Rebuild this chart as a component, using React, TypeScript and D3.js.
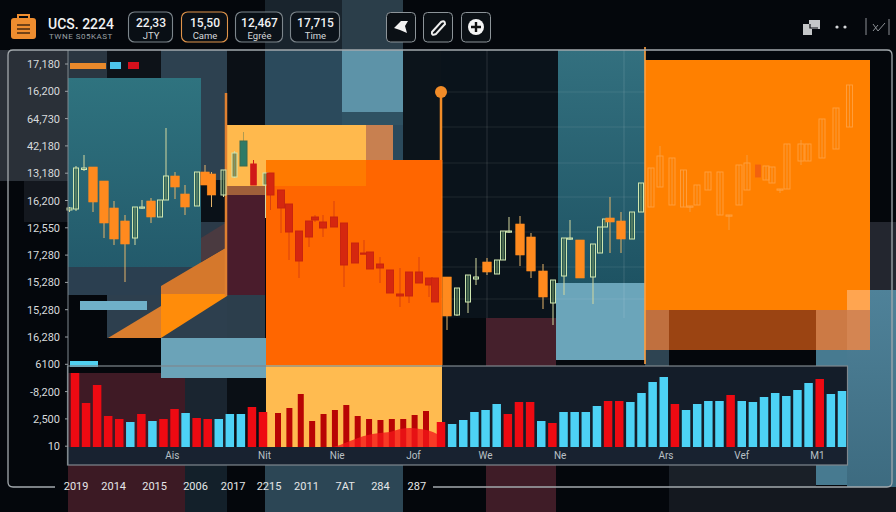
import React from "react";
import * as d3 from "d3";

const candleSession = [0.15,0.8,1.6,2.5,3.6,4.6,5.7,6.7,7.4,8.3,9.2,9.8,10.7,11.7,12.9,13.7,14.35,15.55,16.65,17.55,18.55,19.75,20.25,21.3,22.1,23.1,24.1,24.7,25.5,26.6,27.6,28.7,29.6,30.2,31.2,32.2,33.2,34.1,35.1,36.1,36.7,37.9,38.9,40,40.8,41.9,42.9,43.5,44.1,45.2,46.3,47.5,48.5,49.6,50.2,51.2,52.5,53.2,53.7,54.2,55.3,56.4,57.3,58.3,59.2,60.4,61.55,62.2,62.9,64,65.2,66.1,67.1,67.9,69,69.8,70.4,71.2,71.9,73.3,74,75.4,76.8,78.15];
const candleOpen = [255,256,295.5,298,284,257,244,227,257,264,248,265,289,271,259,293,291,270,288,299,301,280,292,275,261,234,244,248,243,248,242,222,212,213,201,195,171,193,193,187,187,188,150,163,186,203,191,205,233,241,228,194,162,189,226,225,188,212,238,247,244,226,253,258,278,260,258,258,260,275,250,249,260,275,300,285,282,275,276,304,304,307,316,338];
const candleClose = [257,297,297,263,242,226,221,258,258,248,265,289,278,258,293,280,270,295,312,324,280,292,270,257,233,204,228,245,237,238,200,202,211,196,197,172,169,169,182,180,163,149,177,190,188,193,205,234,234,210,194,168,185,227,227,187,221,238,246,243,226,253,282,297,309,307,295,259,280,293,293,250,300,302,288,299,298,276,321,321,321,346,357,380];
const candleHigh = [258,299,310,298,284,264,250,258,265,267,265,337,293,280,293,300,293,295,314,333,305,292,292,275,261,234,244,250,250,264,242,222,225,213,208,195,197,193,208,187,187,188,177,190,207,207,205,234,248,249,232,201,185,227,245,225,221,238,246,268,253,253,282,297,319,307,295,259,280,293,293,250,300,310,300,299,298,276,321,325,321,346,357,380];
const candleLow = [253,254,294,253,227,220,183,220,256,242,248,265,266,250,259,280,258,268,287,299,280,247,255,232,205,187,218,243,228,238,178,202,211,196,182,172,158,162,182,168,163,135,149,152,180,190,191,205,232,199,187,156,140,170,225,187,161,212,238,212,212,226,253,258,278,260,258,253,260,275,250,235,260,275,288,285,282,272,276,300,304,307,316,338];

const volumeValue = [74,44,62,31,28,25,33,26,28,38,34,29,28,28,33,33,40,35,34,39,53,26,33,37,42,31,28,27,28,28,32,36,25,23,27,35,37,43,33,45,45,26,24,35,35,35,41,46,46,45,54,65,70,43,37,43,46,46,52,46,45,50,54,51,57,64,68,53,56];
const volumeUp = [0,0,0,0,0,1,0,1,0,0,1,0,0,1,1,1,0,0,0,0,0,0,0,0,0,0,0,0,0,0,0,0,0,1,1,1,1,1,0,0,0,1,0,1,1,1,1,0,0,1,1,1,1,0,1,1,1,1,0,1,1,1,1,1,1,1,0,1,1];
const depthSession = [26.5,27.2,28.2,29,30,31.2,32.2,33.2,34.2,35.2,36.2,36.9];
const depthValue = [0,2,6,9,12,14,15,18,19,18,16,13];

const yTickLabels = ["17,180","16,200","64,730","42,180","13,180","16,200","12,550","17,280","15,280","15,280","16,280","6100","-8,200","2,500","10"];
const monthLabels = ["Ais","Nit","Nie","Jof","We","Ne","Ars","Vef","M1"];
const monthSlots = [8.8,17.1,23.2,29.9,36,42.7,52.2,59,65.8];
const yearLabels = ["2019","2014","2015","2006","2017","2215","2011","7AT","284","287"];
const yearSlots = [0.1,3.5,7.2,10.9,14.3,17.4,20.5,23.9,27,30.2];
const statValues = ["22,33","15,50","12,467","17,715"];
const statNames = ["JTY","Came","Egrée","Time"];

const W = 896, H = 512;
const xSession = d3.scaleLinear().domain([0, 78]).range([68, 848]);
const yPrice = d3.scaleLinear().domain([0, 400]).range([465, 65]);
const xVolume = d3.scaleLinear().domain([0, 17, 18, 31, 32, 68]).range([75, 263, 278, 426, 441, 842]);
const yVolume = d3.scaleLinear().domain([0, 80]).range([447, 367]);
const depthArea = d3.area<number>()
  .x((_, i) => xSession(depthSession[i]))
  .y0(yVolume(0))
  .y1((d) => yVolume(d))
  .curve(d3.curveMonotoneX);

type P = [number, number, number, number, string];
const panels: P[] = [
  [0, 0, 896, 512, "#04070c"],
  [0, 50, 68, 131, "#2a3038"],
  [24, 181, 44, 41, "#14181f"],
  [265, 0, 77, 50, "#19242d"],
  [342, 0, 61, 50, "#2b3e4a"],
  [68, 50, 39, 28, "#2a3641"],
  [107, 50, 54, 28, "#0d1218"],
  [161, 50, 66, 217, "#2d4150"],
  [227, 50, 38, 75, "#0b1016"],
  [265, 50, 138, 75, "#2b4a5c"],
  [342, 50, 61, 62, "#5d93a8"],
  [342, 112, 61, 13, "#2f5263"],
  [393, 125, 10, 35, "#2b4a5c"],
  [403, 50, 38, 110, "#0c141b"],
  [441, 50, 117, 268, "#0a131b"],
  [558, 50, 87, 233, "url(#teal2)"],
  [441, 318, 45, 48, "#05090e"],
  [486, 318, 70, 48, "#45202c"],
  [556, 283, 89, 77, "#6ba5ba"],
  [556, 360, 90, 6, "#05090e"],
  [68, 267, 133, 28, "#2b3f50"],
  [201, 222, 26, 73, "#2b3a48"],
  [201, 180, 26, 42, "#0a1118"],
  [107, 295, 120, 43, "#2d3f4e"],
  [227, 295, 38, 43, "#2c3e4c"],
  [227, 195, 38, 100, "#4a1c2c"],
  [227, 186, 38, 9, "#9f5f3a"],
  [68, 78, 133, 189, "url(#teal1)"],
  [366, 125, 27, 35, "#c88050"],
  [227, 125, 139, 61, "#ffb94d"],
  [266, 160, 176, 205, "#ff6600"],
  [266, 160, 100, 26, "#ff7a00"],
  [266, 365, 176, 82, "#ffbb50"],
  [870, 222, 26, 68, "#23262f"],
  [816, 350, 31, 135, "#477a90"],
  [847, 290, 49, 197, "url(#steel)"],
  [645, 60, 225, 250, "#ff8000"],
  [645, 310, 225, 40, "#9b4412"],
  [645, 310, 24, 40, "#c0703f"],
  [816, 310, 54, 40, "#cc7a45"],
  [847, 290, 23, 20, "#ffa550"],
  [847, 310, 23, 40, "#d48552"],
  [645, 350, 24, 16, "#2e4452"],
  [68, 373, 117, 74, "#3f1a25"],
  [185, 366, 42, 81, "#1a2530"],
  [227, 366, 39, 81, "#0a0f15"],
  [161, 338, 105, 40, "#6ba3b8"],
  [442, 366, 406, 81, "#141d29"],
  [68, 447, 780, 18, "#182230"],
  [68, 465, 117, 47, "#3c1a24"],
  [185, 465, 42, 47, "#13202a"],
  [265, 465, 138, 47, "#2c4655"],
  [486, 465, 70, 47, "#3f1c27"],
  [669, 465, 147, 22, "#1a2028"],
  [669, 487, 227, 25, "#14181f"],
  [816, 465, 31, 20, "#477a90"],
];

const polys: [string, string][] = [
  ["161,286 227,247 227,294 161,294", "#d5782c"],
  ["161,294 227,294 227,296 161,338", "#ff8c0a"],
  ["108,338 161,338 161,306", "#d97d2e"],
  ["201,262 227,247 227,222 201,238", "#4a3a40"],
];

const gridY = [92, 127, 163, 197, 232, 267, 299];
const gridX = [487, 624];

function candleStyle(s: number, up: boolean) {
  const x = xSession(s);
  if (x > 645) return up
    ? { fill: "none", stroke: "#ffa040", wick: "#f59a3c", w: 6, sw: 0.9 }
    : { fill: "#f2620f", stroke: "#f2620f", wick: "#f59a3c", w: 5, sw: 0.9 };
  if (x > 268 && x < 441) return { fill: "#d5270f", stroke: "#c9240f", wick: "#d9400e", w: 7, sw: 1 };
  if (x > 238 && x < 250) return { fill: "#2f7a66", stroke: "#3a6b50", wick: "#b09a50", w: 7, sw: 1 };
  if (x > 248 && x < 260) return { fill: "#d01818", stroke: "#d01818", wick: "#d01818", w: 5.5, sw: 1 };
  if (up) return { fill: "rgba(48,95,70,0.55)", stroke: "#cfe6b0", wick: "#d2d8a0", w: 5, sw: 1 };
  return { fill: "#ff8a1e", stroke: "#ff8a1e", wick: "#e4b46a", w: 8.5, sw: 0.6 };
}

function Icon({ x, kind }: { x: number; kind: number }) {
  return (
    <g transform={`translate(${x},12)`}>
      <rect x={0.5} y={0.5} width={29} height={29.5} rx={4} fill="#0b1015" stroke="#8d9499" />
      {kind === 0 && <path d="M8 16 L15 9 L22 9 L19 14 L21 21 L14 18 Z" fill="#f2f2f2" />}
      {kind === 1 && <path d="M9 20 L18 10 Q22 8 22 12 L13 22 Q8 24 9 20 Z" fill="none" stroke="#eee" strokeWidth={2} />}
      {kind === 2 && (
        <g>
          <circle cx={15} cy={15} r={8} fill="#f5f5f5" />
          <path d="M15 10 V20 M10 15 H20" stroke="#111" strokeWidth={2.4} />
        </g>
      )}
    </g>
  );
}

export default function App() {
  const font = "Roboto, 'Liberation Sans', sans-serif";
  const statX = [129, 182, 236, 291];
  const statW = [44, 46, 47, 49];
  return (
    <svg width={W} height={H} viewBox={`0 0 ${W} ${H}`} style={{ position: "fixed", left: 0, top: 0 }} fontFamily={font}>
      <defs>
        <linearGradient id="teal1" x1="0" y1="0" x2="0" y2="1">
          <stop offset="0" stopColor="#2f737f" />
          <stop offset="1" stopColor="#235a6b" />
        </linearGradient>
        <linearGradient id="teal2" x1="0" y1="0" x2="0" y2="1">
          <stop offset="0" stopColor="#33707f" />
          <stop offset="1" stopColor="#1e5363" />
        </linearGradient>
        <linearGradient id="steel" x1="0" y1="0" x2="0" y2="1">
          <stop offset="0" stopColor="#4f8299" />
          <stop offset="1" stopColor="#3d6b80" />
        </linearGradient>
      </defs>

      {panels.map((p, i) => <rect key={i} x={p[0]} y={p[1]} width={p[2]} height={p[3]} fill={p[4]} />)}
      {polys.map((p, i) => <polygon key={i} points={p[0]} fill={p[1]} />)}

      {gridY.map((y) => <line key={y} x1={441} x2={645} y1={y} y2={y} stroke="#fff" strokeOpacity={0.09} />)}
      {gridX.map((x) => <line key={x} x1={x} x2={x} y1={50} y2={318} stroke="#fff" strokeOpacity={0.13} />)}

      <rect x={80} y={301} width={67} height={9} fill="#6fb0c8" />
      <rect x={70} y={361} width={28} height={6} fill="#4fd0f0" />
      <rect x={70} y={63} width={36} height={6} fill="#e8892b" />
      <rect x={110} y={62} width={11} height={7} fill="#4cc4ea" />
      <rect x={128} y={62} width={11} height={7} fill="#d3101c" />

      {/* orange guide lines */}
      <line x1={226} x2={226} y1={93} y2={296} stroke="#e08030" strokeWidth={2.5} />
      <line x1={441} x2={441} y1={92} y2={160} stroke="#f28c28" strokeWidth={2.5} />
      <circle cx={441} cy={92} r={6} fill="#f28c28" />
      <line x1={442} x2={442} y1={160} y2={365} stroke="#ff7a10" strokeWidth={1} />

      {candleSession.map((s, i) => {
        const o = candleOpen[i], c = candleClose[i];
        const st = candleStyle(s, c >= o);
        const x = xSession(s);
        const top = yPrice(Math.max(o, c)), bot = yPrice(Math.min(o, c));
        return (
          <g key={i}>
            <line x1={x} x2={x} y1={yPrice(candleHigh[i])} y2={yPrice(candleLow[i])} stroke={st.wick} strokeWidth={1} />
            <rect x={x - st.w / 2} y={top} width={st.w} height={Math.max(bot - top, 1.2)} fill={st.fill} stroke={st.stroke} strokeWidth={st.sw} />
          </g>
        );
      })}

      <line x1={645} x2={645} y1={47} y2={364} stroke="#ffa040" strokeWidth={1.6} />

      {volumeValue.map((v, i) => {
        const cx = xVolume(i);
        const onYellow = cx > 270 && cx < 435;
        const w = onYellow ? 6 : 8.5;
        const fill = volumeUp[i] ? "#4dd2f5" : onYellow ? "#b80404" : "#ee0a12";
        return <rect key={i} x={cx - w / 2} y={yVolume(v)} width={w} height={yVolume(0) - yVolume(v)} fill={fill} />;
      })}
      <path d={depthArea(depthValue) ?? ""} fill="#f5161a" fillOpacity={0.78} />

      {/* frames */}
      <rect x={67.5} y={366} width={780} height={99} fill="none" stroke="#7f888e" strokeWidth={1.2} />
      <line x1={68} x2={68} y1={50} y2={465} stroke="#7f888e" strokeWidth={1} />
      <path d="M55 487 H13 Q8 487 8 482 V55 Q8 50 13 50 H887 Q892 50 892 55 V482 Q892 487 887 487 H433" fill="none" stroke="#a3a9ad" strokeWidth={1.3} />

      {yTickLabels.map((t, i) => {
        const y = 64 + i * 27.3;
        return (
          <g key={i}>
            <line x1={65} x2={68} y1={y} y2={y} stroke="#9aa0a4" />
            <text x={60} y={y + 4} textAnchor="end" fontSize={11} fill="#d7dadc">{t}</text>
          </g>
        );
      })}
      {monthLabels.map((t, i) => (
        <text key={i} x={xVolume(monthSlots[i])} y={459} textAnchor="middle" fontSize={10} fill="#b9c0c5">{t}</text>
      ))}
      {yearLabels.map((t, i) => (
        <text key={i} x={xVolume(yearSlots[i])} y={490} textAnchor="middle" fontSize={11} fill="#e5e7e8">{t}</text>
      ))}

      {/* header */}
      <g>
        <rect x={11} y={18} width={25} height={21} rx={3} fill="#ef8d2f" />
        <path d="M18 18 V15 H29 V18" fill="none" stroke="#ef8d2f" strokeWidth={2} />
        <path d="M17 25 H30 M17 29 H30 M17 33 H30" stroke="#4a2a10" strokeWidth={1.6} />
      </g>
      <text x={48} y={29} fontSize={14} fontWeight={500} fill="#f1f2f3">UCS. 2224</text>
      <text x={49} y={39} fontSize={8} letterSpacing={0.5} fill="#9aa0a5">TWNE S05KAST</text>
      {statValues.map((v, i) => (
        <g key={i}>
          <rect x={statX[i] - 0.5} y={12} width={statW[i]} height={30} rx={6} fill="#0b1117" fillOpacity={0.85} stroke={i === 1 ? "#e0944a" : "#7d868c"} strokeWidth={1.1} />
          <text x={statX[i] + statW[i] / 2} y={27} textAnchor="middle" fontSize={12} fontWeight={500} fill="#f1f2f3">{v}</text>
          <text x={statX[i] + statW[i] / 2} y={39} textAnchor="middle" fontSize={9.5} fill="#d5d8da">{statNames[i]}</text>
        </g>
      ))}
      <Icon x={386} kind={0} />
      <Icon x={423} kind={1} />
      <Icon x={461} kind={2} />
      <path d="M803 24 H809 V20 H820 V29 H812 V35 H803 Z" fill="#c4c6c8" />
      <path d="M810 24 V28 H818" fill="none" stroke="#0a0d12" strokeWidth={1.2} />
      <circle cx={837} cy={27} r={1.6} fill="#d5d7d9" />
      <circle cx={845} cy={27} r={1.6} fill="#d5d7d9" />
      <path d="M866 18 V35 M889 19 V35 M873 24 L878 31 L885 23 M873 31 L878 25" fill="none" stroke="#8c9095" strokeWidth={1} />
    </svg>
  );
}
